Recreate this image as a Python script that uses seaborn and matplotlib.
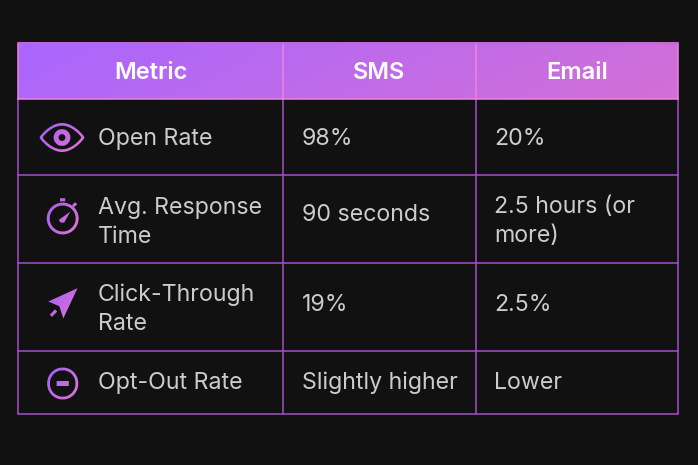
import numpy as np
import matplotlib
matplotlib.use("Agg")
import matplotlib.pyplot as plt
import seaborn as sns
from matplotlib.path import Path

columns = ["Metric", "SMS", "Email"]
metrics = ["Open Rate", "Avg. Response\nTime", "Click-Through\nRate", "Opt-Out Rate"]
sms = ["98%", "90 seconds", "19%", "Slightly higher"]
email = ["20%", "2.5 hours (or\nmore)", "2.5%", "Lower"]

# table layout in reference pixels
col_edges = [18, 283, 476, 678]
row_edges = [43, 99, 175, 263, 351, 414]
text_x = [98, 302, 494.5]
# first line baseline of each cell, by column
baselines = [[145, 214, 301.4, 389.2],
             [145, 220.7, 311, 389.2],
             [145, 213.3, 310.6, 389.2]]
header_baseline = 78.8

bg = "#111111"
grad_a = "#a966ff"
grad_b = "#d36fd6"

sns.set_theme(style="dark")
plt.rcParams["font.family"] = ["Inter", "DejaVu Sans"]

fig = plt.figure(figsize=(6.98, 4.65), dpi=100, facecolor=bg)
ax = fig.add_axes([0, 0, 1, 1])
ax.set_facecolor(bg)
ax.axis("off")

palette = sns.blend_palette([grad_a, grad_b], as_cmap=True)
icon_palette = sns.blend_palette(["#a05cf8", "#e676d2"], as_cmap=True)


def ring(cx, cy, ro, ri):
    t = np.linspace(0, 2 * np.pi, 200)
    outer = np.c_[cx + ro * np.cos(t), cy + ro * np.sin(t)]
    inner = np.c_[cx + ri * np.cos(t[::-1]), cy + ri * np.sin(t[::-1])]
    return Path(np.r_[outer, inner])


def almond(cx, cy, w, h):
    t = np.linspace(0, 1, 60)
    x = cx - w + 2 * w * t
    top = np.c_[x, cy - h * np.sin(np.pi * t) ** 0.8]
    bot = np.c_[x[::-1], cy + h * np.sin(np.pi * t[::-1]) ** 0.8]
    return np.r_[top, bot]


def draw_icon(paths, x0, y0, x1, y1):
    # gradient filled shape with a supersampled mask so edges stay smooth
    ss = 5
    w, h = x1 - x0, y1 - y0
    xs = x0 + (np.arange(w * ss) + 0.5) / ss
    ys = y0 + (np.arange(h * ss) + 0.5) / ss
    gx, gy = np.meshgrid(xs, ys)
    pts = np.c_[gx.ravel(), gy.ravel()]
    mask = np.zeros(len(pts), dtype=bool)
    for p in paths:
        mask |= p.contains_points(pts)
    mask = mask.reshape(gy.shape).reshape(h, ss, w, ss).mean(axis=(1, 3))
    u = (np.arange(w) + 0.5) / w
    v = (np.arange(h) + 0.5) / h
    frac = np.clip(0.6 * u[None, :] + 0.4 * v[:, None], 0, 1)
    rgba = icon_palette(frac)
    rgba[..., 3] = mask
    ax.imshow(rgba, extent=(x0, x1, y1, y0), interpolation="nearest", aspect="auto", zorder=3)


# header gradient
gu = np.linspace(0, 1, 660)
gv = np.linspace(0, 1, 56)
grad = 0.85 * gu[None, :] + 0.15 * gv[:, None]
ax.imshow(grad, cmap=palette, vmin=0, vmax=1, aspect="auto", zorder=1,
          extent=(col_edges[0], col_edges[-1], row_edges[1], row_edges[0]))

# grid lines
body_line = "#a24fca"
head_line = "#ee84de"
lw = 1.1
for x in col_edges:
    ax.plot([x, x], [row_edges[1], row_edges[-1]], color=body_line, lw=lw, zorder=2)
    ax.plot([x, x], [row_edges[0], row_edges[1]], color=head_line, lw=lw, zorder=2)
for y in row_edges[2:]:
    ax.plot(col_edges[::3], [y, y], color=body_line, lw=lw, zorder=2)
ax.plot(col_edges[::3], [row_edges[1]] * 2, color=head_line, lw=lw, zorder=2)
ax.plot(col_edges[::3], [row_edges[0]] * 2, color="#c468d0", lw=lw, zorder=2)

# header text
for i, name in enumerate(columns):
    ax.text((col_edges[i] + col_edges[i + 1]) / 2, header_baseline, name,
            color="white", fontsize=17, fontweight="semibold", ha="center", va="baseline", zorder=4)

# body text
line_gap = 28.5
for c, col in enumerate([metrics, sms, email]):
    for r, label in enumerate(col):
        for k, line in enumerate(label.split("\n")):
            ax.text(text_x[c], baselines[c][r] + k * line_gap, line, color="#cccccc",
                    fontsize=16.7, ha="left", va="baseline", zorder=4)

# eye
outer = almond(62, 137.5, 22.5, 14.5)
inner = almond(62, 137.5, 19.3, 11.8)
draw_icon([Path(np.r_[outer, inner[::-1]]), ring(62, 137.5, 8.4, 3.4)], 38, 122, 86, 153)

# stopwatch
draw_icon([
    ring(62.7, 218.5, 15.9, 13),
    Path([(60, 198.2), (65.2, 198.2), (65.2, 201.4), (60, 201.4)]),
    Path([(72.0, 205.0), (75.2, 202.2), (77.2, 204.4), (74.0, 207.2)]),
    Path([(58.8, 219.8), (70.4, 211.6), (64.2, 222.6), (60.6, 222.6)]),
], 45, 197, 80, 236)

# arrow
draw_icon([
    Path([(77.5, 288.2), (48.2, 301.5), (59.3, 306.2), (63.3, 318.5)]),
    Path([(49.8, 314.6), (55.0, 309.4), (57.2, 311.6), (52.0, 316.8)]),
], 47, 287, 79, 320)

# minus circle
draw_icon([
    ring(62.7, 384, 15.5, 12.7),
    Path([(56.7, 382), (68.8, 382), (68.8, 386), (56.7, 386)]),
], 46, 367, 80, 401)

ax.set_xlim(0, 698)
ax.set_ylim(465, 0)
fig.savefig("out.png", dpi=100, facecolor=bg)
